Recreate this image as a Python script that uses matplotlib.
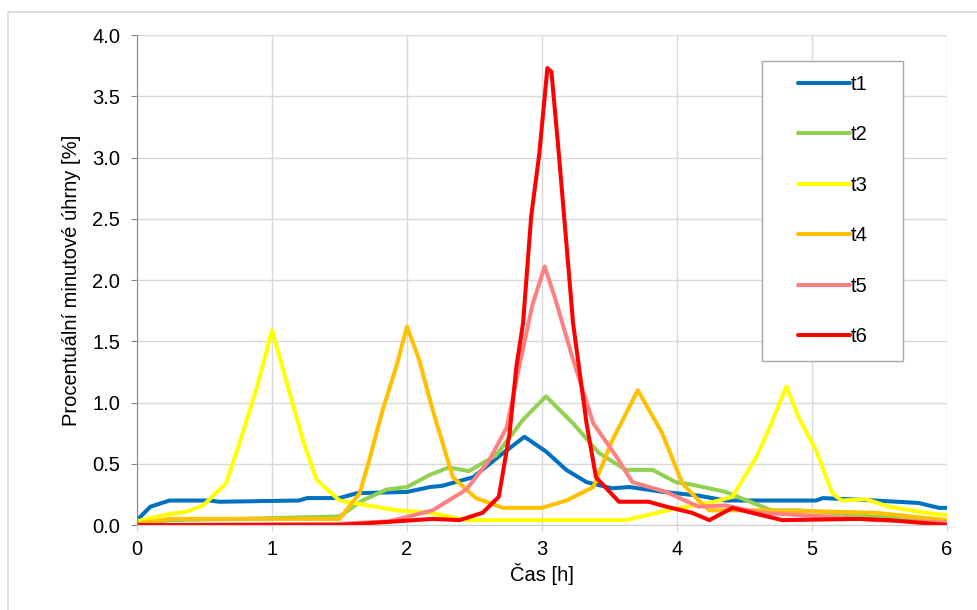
import matplotlib.pyplot as plt
from matplotlib.patches import Rectangle

plt.rcParams['font.family'] = ['Liberation Sans', 'DejaVu Sans']

# series: time [h] and percentage values
t1_x = [0, 0.1, 0.24, 0.54, 0.61, 1.2, 1.26, 1.5, 1.63, 2.0, 2.17, 2.26, 2.49, 2.68, 2.87,
        3.03, 3.18, 3.33, 3.52, 3.65, 3.9, 4.16, 4.36, 5.03, 5.08, 5.47, 5.79, 5.94, 6.0]
t1_y = [0.04, 0.15, 0.2, 0.2, 0.19, 0.2, 0.22, 0.22, 0.26, 0.27, 0.31, 0.32, 0.39, 0.56, 0.72,
        0.6, 0.45, 0.35, 0.3, 0.31, 0.27, 0.24, 0.2, 0.2, 0.22, 0.2, 0.18, 0.14, 0.14]

t2_x = [0, 0.24, 0.76, 1.5, 1.67, 1.85, 2.0, 2.17, 2.31, 2.46, 2.66, 2.86, 3.03, 3.23, 3.42,
        3.62, 3.82, 3.99, 4.11, 4.36, 4.7, 4.9, 5.15, 5.44, 6.0]
t2_y = [0.0, 0.04, 0.05, 0.07, 0.2, 0.29, 0.31, 0.41, 0.47, 0.44, 0.57, 0.86, 1.05, 0.83, 0.59,
        0.45, 0.45, 0.35, 0.33, 0.27, 0.12, 0.12, 0.1, 0.07, 0.03]

t3_x = [0, 0.19, 0.37, 0.49, 0.66, 0.76, 0.89, 1.0, 1.11, 1.23, 1.33, 1.5, 1.92, 2.17, 2.44,
        3.62, 3.97, 4.24, 4.41, 4.59, 4.68, 4.81, 4.9, 5.03, 5.15, 5.22, 5.4, 5.57, 5.84, 6.0]
t3_y = [0.03, 0.08, 0.11, 0.16, 0.34, 0.67, 1.13, 1.59, 1.16, 0.69, 0.37, 0.2, 0.12, 0.1, 0.04,
        0.04, 0.13, 0.18, 0.23, 0.56, 0.78, 1.13, 0.88, 0.61, 0.26, 0.2, 0.21, 0.15, 0.1, 0.08]

t4_x = [0, 0.24, 1.5, 1.65, 1.72, 1.82, 1.92, 2.0, 2.09, 2.19, 2.34, 2.51, 2.71, 3.0, 3.18,
        3.38, 3.52, 3.71, 3.89, 4.04, 4.16, 4.24, 4.61, 5.1, 5.47, 6.0]
t4_y = [0.01, 0.05, 0.05, 0.26, 0.53, 0.94, 1.29, 1.62, 1.35, 0.94, 0.39, 0.22, 0.14, 0.14, 0.2,
        0.31, 0.69, 1.1, 0.75, 0.34, 0.2, 0.12, 0.12, 0.11, 0.1, 0.04]

t5_x = [0, 1.5, 1.87, 2.19, 2.44, 2.61, 2.74, 2.83, 2.93, 3.02, 3.1, 3.23, 3.38, 3.55, 3.67,
        3.92, 4.16, 4.36, 4.61, 5.1, 5.47, 6.0]
t5_y = [0.0, 0.01, 0.03, 0.12, 0.29, 0.53, 0.8, 1.29, 1.8, 2.11, 1.84, 1.35, 0.83, 0.56, 0.35,
        0.27, 0.15, 0.16, 0.1, 0.07, 0.04, 0.02]

t6_x = [0, 1.5, 1.92, 2.19, 2.39, 2.56, 2.68, 2.76, 2.81, 2.86, 2.92, 2.98, 3.04, 3.07, 3.12,
        3.17, 3.23, 3.33, 3.4, 3.57, 3.79, 3.92, 4.11, 4.24, 4.41, 4.48, 4.78, 5.35, 5.57, 6.0]
t6_y = [0.0, 0.0, 0.03, 0.05, 0.04, 0.1, 0.23, 0.75, 1.29, 1.65, 2.52, 3.03, 3.73, 3.7, 3.09,
        2.44, 1.65, 0.83, 0.39, 0.19, 0.19, 0.15, 0.1, 0.04, 0.14, 0.12, 0.04, 0.05, 0.04, 0.0]

labels = ['t1', 't2', 't3', 't4', 't5', 't6']
colors = ['#0070C0', '#92D050', '#FFFF00', '#FFC000', '#FF8080', '#FF0000']
xs = [t1_x, t2_x, t3_x, t4_x, t5_x, t6_x]
ys = [t1_y, t2_y, t3_y, t4_y, t5_y, t6_y]

fs = 14.5

fig = plt.figure(figsize=(9.77, 6.10), dpi=100)
ax = fig.add_axes([0.1402, 0.1393, 0.8291, 0.8033])

# outer chart border
fig.patches.append(Rectangle((8 / 977, -0.1), 1.2, 1.1 - 12 / 610, transform=fig.transFigure,
                             fill=False, edgecolor='#D9D9D9', linewidth=1.2))

for x, y, c, lab in zip(xs, ys, colors, labels):
    ax.plot(x, y, color=c, lw=2.9, label=lab, solid_joinstyle='round', solid_capstyle='round')

ax.set_xlim(0, 6)
ax.set_ylim(0, 4)
ax.set_xticks(range(7))
ax.set_yticks([i * 0.5 for i in range(9)])
ax.set_yticklabels([f"{i * 0.5:.1f}" for i in range(9)])
ax.grid(True, color='#D9D9D9', linewidth=1)
ax.set_axisbelow(True)
for s in ['top', 'right']:
    ax.spines[s].set_visible(False)
ax.spines['left'].set_color('#868686')
ax.spines['bottom'].set_color('#D0D0D0')
ax.tick_params(axis='y', length=4, color='#868686', labelsize=fs, pad=8)
ax.tick_params(axis='x', length=4, color='#D0D0D0', labelsize=fs, pad=7)

ax.set_xlabel('Čas [h]', fontsize=fs, labelpad=3)
ax.set_ylabel('Procentuální minutové úhrny [%]', fontsize=fs, labelpad=8)

# legend box drawn separately so its padding matches
ax.add_patch(Rectangle((0.772, 0.335), 0.174, 0.612, transform=ax.transAxes,
                       facecolor='white', edgecolor='#A6A6A6', linewidth=1, zorder=4))
leg = ax.legend(loc='center', bbox_to_anchor=(0.859, 0.642), frameon=False,
                fontsize=fs, handlelength=2.6, handletextpad=0.05, labelspacing=1.56)
leg.set_zorder(5)

fig.savefig('out.png', dpi=100)
